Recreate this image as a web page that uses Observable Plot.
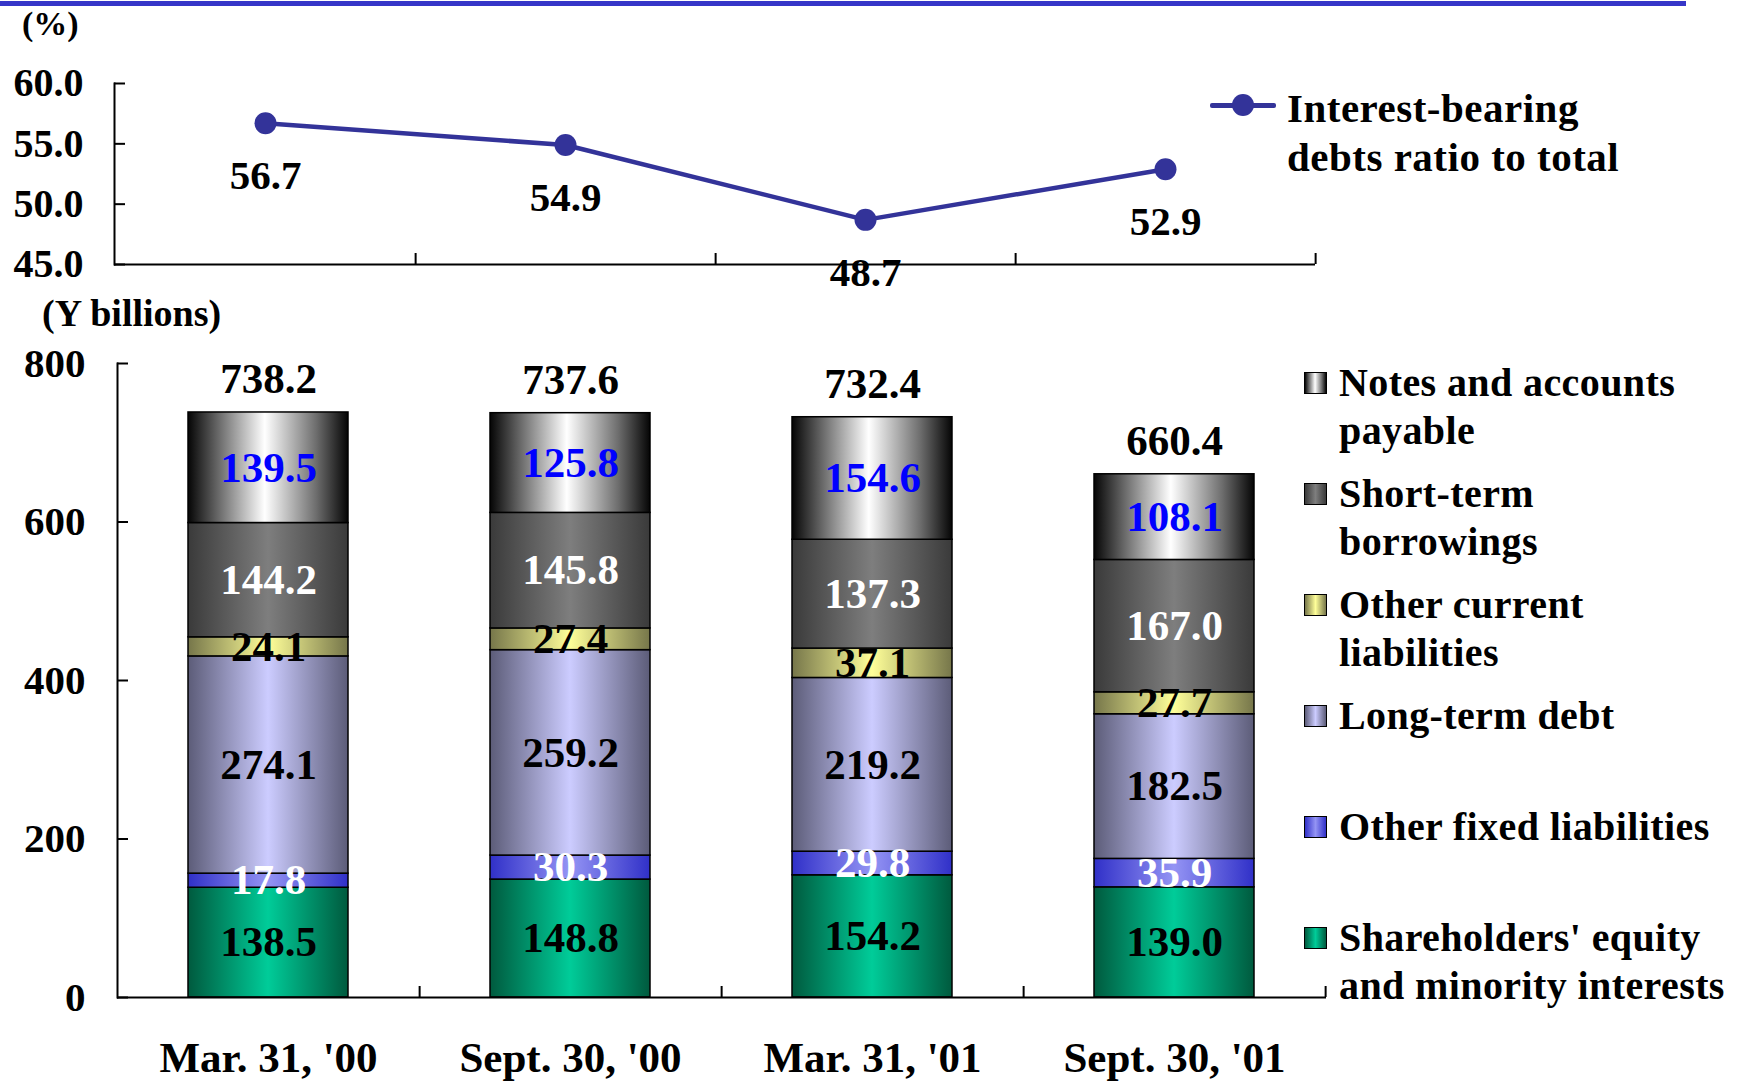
<!DOCTYPE html>
<html>
<head>
<meta charset="utf-8">
<script src="https://cdn.jsdelivr.net/npm/d3@7"></script>
<script src="https://cdn.jsdelivr.net/npm/@observablehq/plot@0.6"></script>
<style>
  html, body { margin: 0; padding: 0; background: #fff; }
  #root { position: relative; width: 1740px; height: 1082px; overflow: hidden;
          font-family: "Liberation Serif", "Times New Roman", serif; font-weight: bold; color: #000; }
  .abs { position: absolute; white-space: nowrap; }
  .sw { position: absolute; box-sizing: border-box; border: 1.5px solid #000; }
</style>
</head>
<body>
<svg width="0" height="0" style="position:absolute">
  <defs>
    <linearGradient id="g-notes" x1="0" x2="1" y1="0" y2="0">
      <stop offset="0" stop-color="#050505"/><stop offset="0.2" stop-color="#6e6e6e"/>
      <stop offset="0.48" stop-color="#ffffff"/><stop offset="0.8" stop-color="#6e6e6e"/>
      <stop offset="1" stop-color="#050505"/>
    </linearGradient>
    <linearGradient id="g-short" x1="0" x2="1" y1="0" y2="0">
      <stop offset="0" stop-color="#3a3a3a"/><stop offset="0.5" stop-color="#7e7e7e"/><stop offset="1" stop-color="#3a3a3a"/>
    </linearGradient>
    <linearGradient id="g-othcur" x1="0" x2="1" y1="0" y2="0">
      <stop offset="0" stop-color="#76764a"/><stop offset="0.5" stop-color="#ffff99"/><stop offset="1" stop-color="#76764a"/>
    </linearGradient>
    <linearGradient id="g-long" x1="0" x2="1" y1="0" y2="0">
      <stop offset="0" stop-color="#5c5c78"/><stop offset="0.5" stop-color="#ccccff"/><stop offset="1" stop-color="#5c5c78"/>
    </linearGradient>
    <linearGradient id="g-othfix" x1="0" x2="1" y1="0" y2="0">
      <stop offset="0" stop-color="#3030c8"/><stop offset="0.5" stop-color="#9494f4"/><stop offset="1" stop-color="#3030c8"/>
    </linearGradient>
    <linearGradient id="g-equity" x1="0" x2="1" y1="0" y2="0">
      <stop offset="0" stop-color="#005a3e"/><stop offset="0.5" stop-color="#00cc99"/><stop offset="1" stop-color="#005a3e"/>
    </linearGradient>
  </defs>
</svg>
<div id="root"></div>
<script>
// ---------- data ----------
const dates = ["Mar. 31, '00", "Sept. 30, '00", "Mar. 31, '01", "Sept. 30, '01"];
const ratio = [56.7, 54.9, 48.7, 52.9];
const ratioTicks = [45, 50, 55, 60];
const amountTicks = [0, 200, 400, 600, 800];

// stacked series, bottom to top
const seriesNames = [
  "Shareholders' equity and minority interests",
  "Other fixed liabilities",
  "Long-term debt",
  "Other current liabilities",
  "Short-term borrowings",
  "Notes and accounts payable"
];
const equity       = [138.5, 148.8, 154.2, 139.0];
const otherFixed   = [17.8, 30.3, 29.8, 35.9];
const longTerm     = [274.1, 259.2, 219.2, 182.5];
const otherCurrent = [24.1, 27.4, 37.1, 27.7];
const shortTerm    = [144.2, 145.8, 137.3, 167.0];
const notes        = [139.5, 125.8, 154.6, 108.1];
const totals       = [738.2, 737.6, 732.4, 660.4];

// legend (top to bottom) labels
const legendLines = [
  ["Notes and accounts", "payable"],
  ["Short-term", "borrowings"],
  ["Other current", "liabilities"],
  ["Long-term debt"],
  ["Other fixed liabilities"],
  ["Shareholders' equity", "and minority interests"]
];

// ---------- styles ----------
const seriesFill = ["url(#g-equity)", "url(#g-othfix)", "url(#g-long)", "url(#g-othcur)", "url(#g-short)", "url(#g-notes)"];
const labelColor = ["#000", "#fff", "#000", "#000", "#fff", "#0000ff"];
const swatchCss = [
  "linear-gradient(90deg,#005a3e,#00cc99,#005a3e)",
  "linear-gradient(90deg,#3030c8,#9494f4,#3030c8)",
  "linear-gradient(90deg,#5c5c78,#ccccff,#5c5c78)",
  "linear-gradient(90deg,#76764a,#ffff99,#76764a)",
  "linear-gradient(90deg,#3a3a3a,#7e7e7e,#3a3a3a)",
  "linear-gradient(90deg,#050505,#6e6e6e 20%,#ffffff 48%,#6e6e6e 80%,#050505)"
];
const FONT = "'Liberation Serif', 'Times New Roman', serif";
const navy = "#333399";

// ---------- build tables ----------
const seriesValues = [equity, otherFixed, longTerm, otherCurrent, shortTerm, notes];
const rows = [];
dates.forEach((d, i) => {
  let base = 0;
  seriesValues.forEach((vals, s) => {
    const v = vals[i];
    rows.push({date: d, series: seriesNames[s], s, value: v, lo: base, hi: base + v, mid: base + v / 2});
    base += v;
  });
});
const tops = dates.map((d, i) => ({date: d, top: d3.sum(seriesValues, vals => vals[i]), label: totals[i].toFixed(1)}));
const lineRows = dates.map((d, i) => ({date: d, ratio: ratio[i]}));

const root = document.getElementById("root");
function addDiv(css, html) {
  const el = document.createElement("div");
  el.className = "abs";
  el.style.cssText = css;
  if (html != null) el.innerHTML = html;
  root.appendChild(el);
  return el;
}

// top rule
addDiv("left:0;top:1px;width:1686px;height:5px;background:#3636c8;");

// ---------- top: line chart ----------
{
  const W = 1330, H = 300, mL = 114, mR = 15, mT = 83, mB = 36;
  const step = (W - mL - mR) / dates.length;
  const frameH = H - mT - mB;
  const top = Plot.plot({
    width: W, height: H,
    marginLeft: mL, marginRight: mR, marginTop: mT, marginBottom: mB,
    style: {fontFamily: FONT, fontWeight: "bold", fontSize: "40px", color: "#000", background: "transparent", overflow: "visible"},
    x: {type: "point", domain: dates, padding: 0.5, axis: null, label: null},
    y: {domain: [45, 60], label: null},
    marks: [
      Plot.axisY(ratioTicks, {tickSize: 0, tickPadding: 31, tickFormat: d => d.toFixed(1), fontSize: 40, label: null}),
      Plot.axisY(ratioTicks, {tickSize: 11, dx: 11, tickFormat: () => "", strokeWidth: 2, label: null}),
      Plot.frame({anchor: "left", strokeWidth: 2}),
      Plot.ruleY([45], {strokeWidth: 2}),
      Plot.ruleX(dates, {x: d => d, dx: step / 2, insetTop: frameH - 11, strokeWidth: 2}),
      Plot.line(lineRows, {x: "date", y: "ratio", stroke: navy, strokeWidth: 4.5}),
      Plot.dot(lineRows, {x: "date", y: "ratio", r: 11, fill: navy}),
      Plot.text(lineRows, {x: "date", y: "ratio", text: d => d.ratio.toFixed(1), dy: 53, fontSize: 41, fill: "#000"})
    ]
  });
  top.style.position = "absolute";
  top.style.left = "0px";
  top.style.top = "0px";
  root.appendChild(top);
}

// ---------- bottom: stacked bars ----------
{
  const W = 1340, H = 752, mL = 117, mR = 14, mT = 33, mB = 85;
  const step = (W - mL - mR) / dates.length;
  const frameH = H - mT - mB;
  const marks = [
    Plot.axisY(amountTicks, {tickSize: 0, tickPadding: 32, tickFormat: d => String(d), fontSize: 41, label: null}),
    Plot.axisY(amountTicks, {tickSize: 11, dx: 11, tickFormat: () => "", strokeWidth: 2, label: null}),
    Plot.barY(rows, {x: "date", y1: "lo", y2: "hi", fill: "series", stroke: "#000", strokeWidth: 1.5}),
    Plot.frame({anchor: "left", strokeWidth: 2}),
    Plot.ruleY([0], {strokeWidth: 2}),
    Plot.ruleX(dates, {x: d => d, dx: step / 2, insetTop: frameH - 11, strokeWidth: 2})
  ];
  seriesNames.forEach((name, s) => {
    marks.push(Plot.text(rows.filter(r => r.s === s), {
      x: "date", y: "mid", text: d => d.value.toFixed(1), fill: labelColor[s], fontSize: 43
    }));
  });
  marks.push(Plot.text(tops, {x: "date", y: "top", text: "label", dy: -33, fontSize: 43, fill: "#000"}));
  marks.push(Plot.text(dates, {x: d => d, frameAnchor: "bottom", dy: 74, fontSize: 43, fill: "#000"}));

  const bottom = Plot.plot({
    width: W, height: H,
    marginLeft: mL, marginRight: mR, marginTop: mT, marginBottom: mB,
    style: {fontFamily: FONT, fontWeight: "bold", fontSize: "40px", color: "#000", background: "transparent", overflow: "visible"},
    x: {type: "band", domain: dates, paddingInner: 0.47, paddingOuter: 0.235, axis: null, label: null},
    y: {domain: [0, 800], label: null},
    color: {type: "ordinal", domain: seriesNames, range: seriesFill},
    marks
  });
  bottom.style.position = "absolute";
  bottom.style.left = "0px";
  bottom.style.top = "330px";
  root.appendChild(bottom);
}

// ---------- unit labels ----------
addDiv("left:22px;top:7px;font-size:34px;line-height:34px;", "(%)");
addDiv("left:42px;top:294px;font-size:38px;line-height:38px;", "(Y billions)");

// ---------- line legend ----------
addDiv("left:1210px;top:103px;width:66px;height:5px;background:" + navy + ";border-radius:2px;");
addDiv("left:1232px;top:94px;width:22px;height:22px;border-radius:50%;background:" + navy + ";");
addDiv("left:1287px;top:84px;font-size:41px;line-height:49px;letter-spacing:0.5px;", "Interest-bearing<br>debts ratio to total");

// ---------- bar legend ----------
const rowCenters = [383, 494, 605, 716, 827, 938];
legendLines.forEach((lines, k) => {
  const s = seriesNames.length - 1 - k;
  const sw = document.createElement("div");
  sw.className = "sw";
  sw.style.cssText = `left:1304px;top:${rowCenters[k] - 11}px;width:23px;height:22px;background:${swatchCss[s]};`;
  root.appendChild(sw);
  addDiv(`left:1339px;top:${rowCenters[k] - 24}px;font-size:40px;line-height:48px;letter-spacing:0.4px;`, lines.join("<br>"));
});
</script>
</body>
</html>
